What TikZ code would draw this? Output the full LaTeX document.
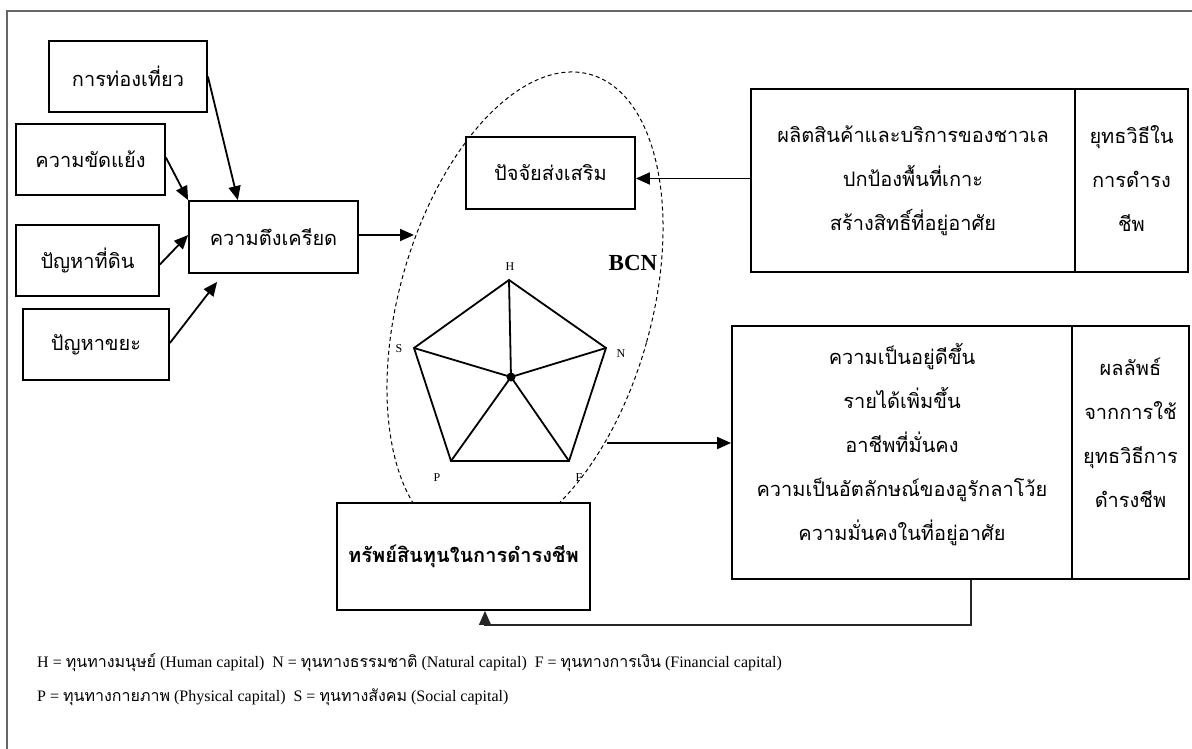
\documentclass[tikz,border=0pt]{standalone}
\usepackage{fontspec}
\setmainfont{Liberation Serif}
\newfontfamily\thai[Script=Thai]{Loma}
\usetikzlibrary{arrows.meta,calc,shapes.geometric}
\begin{document}
\begin{tikzpicture}[x=1pt,y=-1pt,
  box/.style={draw, line width=1.8pt, inner sep=0pt, align=center, fill=white,
    font=\thai\fontsize{20}{44}\selectfont},
  arr/.style={line width=1.8pt, -{Triangle[length=14pt,width=12pt]}},
  fb/.style={line width=1.3pt, black!85, -{Triangle[length=14pt,width=12pt]}},
  pent/.style={line width=1.8pt, line join=miter},
  plabel/.style={font=\fontsize{12}{12}\selectfont, inner sep=0pt},
  legend/.style={anchor=west, inner sep=0pt, font=\fontsize{16}{16}\selectfont}]
\newcommand{\lth}[1]{{\thai\fontsize{16}{16}\selectfont #1}}
\useasboundingbox (0,0) rectangle (1192,749);
\fill[white] (0,0) rectangle (1192,749);
\draw[line width=1.2pt, black!60] (7,760) -- (7,11) -- (1200,11);

% ellipse (BCN)
\node[draw, dashed, dash pattern=on 4pt off 3pt, line width=1pt, ellipse, rotate=-15.6,
  minimum width=252.6pt, minimum height=485pt, inner sep=0pt] (bcn) at (525,308) {};

% left boxes
\node[box, minimum width=158pt, minimum height=71pt] (tour) at (128,76.5) {การท่องเที่ยว};
\node[box, minimum width=149pt, minimum height=71pt] (conflict) at (90.5,159.5) {ความขัดแย้ง};
\node[box, minimum width=143pt, minimum height=71pt] (land) at (87.5,260.5) {ปัญหาที่ดิน};
\node[box, minimum width=146pt, minimum height=71pt] (waste) at (96,344.5) {ปัญหาขยะ};
\node[box, minimum width=169pt, minimum height=72pt] (tension) at (273.5,237) {ความตึงเครียด};

% inner boxes
\node[box, minimum width=169pt, minimum height=72pt] (promote) at (550.5,173) {ปัจจัยส่งเสริม};
\node[box, minimum width=253pt, minimum height=107pt, font=\thai\bfseries\fontsize{20}{44}\selectfont] (asset) at (463.5,556.5) {ทรัพย์สินทุนในการดำรงชีพ};

% right boxes
\node[box, minimum width=324pt, minimum height=183pt] (strat) at (913,180.5)
  {ผลิตสินค้าและบริการของชาวเล\\ปกป้องพื้นที่เกาะ\\สร้างสิทธิ์ที่อยู่อาศัย};
\node[box, minimum width=113pt, minimum height=183pt] (stratside) at (1131.5,180.5)
  {ยุทธวิธีใน\\การดำรง\\ชีพ\\[-40pt]\mbox{}};
\node[box, minimum width=340pt, minimum height=253pt] (outcome) at (902,452.5)
  {ความเป็นอยู่ดีขึ้น\\รายได้เพิ่มขึ้น\\อาชีพที่มั่นคง\\ความเป็นอัตลักษณ์ของอูรักลาโว้ย\\ความมั่นคงในที่อยู่อาศัย\\[-22pt]\mbox{}};
\node[box, minimum width=117pt, minimum height=253pt] (outside) at (1130.5,452.5)
  {ผลลัพธ์\\จากการใช้\\ยุทธวิธีการ\\ดำรงชีพ\\[-4pt]\mbox{}};

% pentagon
\coordinate (H) at (509,280);
\coordinate (N) at (606,348);
\coordinate (F) at (569,461);
\coordinate (P) at (451,461);
\coordinate (S) at (414,348);
\coordinate (O) at (511,377);
\draw[pent] (H) -- (N) -- (F) -- (P) -- (S) -- cycle;
\draw[pent] (O) -- (H) (O) -- (N) (O) -- (F) (O) -- (P) (O) -- (S);
\fill (O) circle (4.5pt);
\node[plabel] (lH) at (510,267) {H};
\node[plabel] (lS) at (399,349) {S};
\node[plabel] (lN) at (621,354) {N};
\node[plabel] (lP) at (437,478) {P};
\node[plabel] (lF) at (579,478) {F};
\node[font=\bfseries\fontsize{23}{23}\selectfont, inner sep=0pt] (bcnlabel) at (633,263) {BCN};

% connectors
\coordinate (bcnin) at (414,235);
\coordinate (bcnout) at (607,443);
\draw[arr] (tour.east) -- (tension.134);
\draw[arr] ([yshift=2pt]conflict.east) -- (tension.north west);
\draw[arr] ([yshift=-4pt]land.east) -- ([yshift=2pt]tension.west);
\draw[arr] ([yshift=1.5pt]waste.east) -- ([xshift=29pt,yshift=-8pt]tension.south west);
\draw[arr] ([yshift=2pt]tension.east) -- (bcnin);
\draw[arr] ([yshift=2pt]strat.west) -- ([yshift=2pt]strat.west -| promote.east);
\draw[arr] (bcnout) -- (bcnout -| outcome.west);
\draw[fb] ([xshift=69pt]outcome.south) -- ++(0,45) -| ([xshift=21.5pt]asset.south);

% legend
\node[legend] (leg1) at (37,663) {H = \lth{ทุนทางมนุษย์} (Human capital)\hspace{8pt}N = \lth{ทุนทางธรรมชาติ} (Natural capital)\hspace{8pt}F = \lth{ทุนทางการเงิน} (Financial capital)};
\node[legend] (leg2) at (37,697) {P = \lth{ทุนทางกายภาพ} (Physical capital)\hspace{8pt}S = \lth{ทุนทางสังคม} (Social capital)};
\end{tikzpicture}
\end{document}
